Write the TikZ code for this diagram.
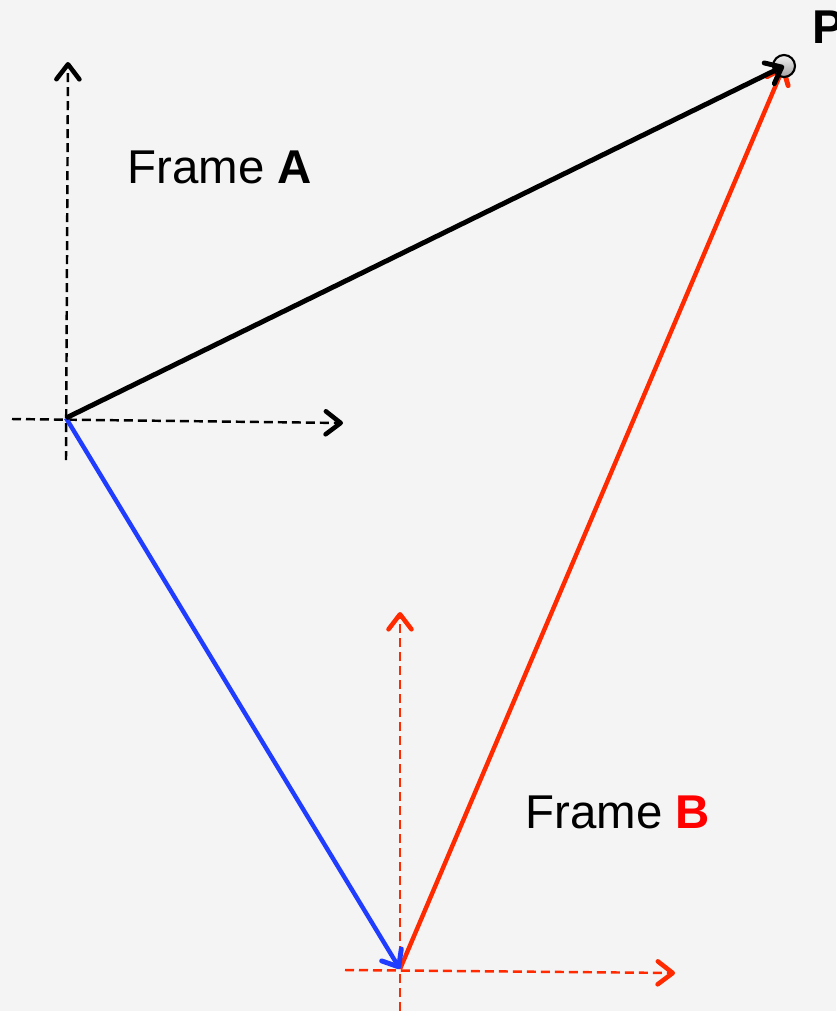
\documentclass[tikz,border=0pt]{standalone}
\usepackage{fontspec}
\setmainfont{Liberation Sans}
\usetikzlibrary{arrows.meta, positioning}

\definecolor{bgGray}{HTML}{F4F4F4}
\definecolor{vecBlue}{HTML}{1F3CFF}
\definecolor{vecRed}{HTML}{FF2A00}
\definecolor{labelRed}{HTML}{FF0000}

\begin{document}
\begin{tikzpicture}[
    x=0.02cm, y=-0.02cm,
    caption/.style={anchor=base west, inner sep=0pt, font=\fontsize{27}{32}\selectfont},
    axis/.style={line width=1.4pt, dash pattern=on 0.18cm off 0.1cm, -{Straight Barb[length=0.3cm, width=0.46cm, line width=2.6pt, round]}},
    vec/.style={line width=2.8pt, -{Straight Barb[length=0.28cm, width=0.46cm, line width=2.8pt, round]}},
    point/.style={circle, draw, line width=1.2pt, minimum size=0.44cm, inner sep=0pt, top color=gray!10, bottom color=gray!75}
]
    % Background
    \fill[bgGray] (0,0) rectangle (836,1011);
    \useasboundingbox (0,0) rectangle (836,1011);

    % Origins and axis ends
    \coordinate (A) at (66,418);
    \coordinate (B) at (400,969);
    \coordinate (Pc) at (784,66);
    \coordinate (AxS) at (12,419);
    \coordinate (AxE) at (343,423);
    \coordinate (AyS) at (66,460);
    \coordinate (AyE) at (68,62);
    \coordinate (BxS) at (345,970);
    \coordinate (BxE) at (675,973);
    \coordinate (ByS) at (400,1011);
    \coordinate (ByE) at (400,612);

    % Axes
    \draw[axis] (AxS) -- (AxE);
    \draw[axis] (AyS) -- (AyE);
    \draw[axis, vecRed] (BxS) -- (BxE);
    \draw[axis, vecRed] (ByS) -- (ByE);

    % Vectors
    \draw[vec, vecRed, line width=2.5pt] (B) -- (Pc);
    \node[point] (P) at (Pc) {};
    \draw[vec, vecBlue, line width=2.5pt] (A) -- (B);
    \draw[vec] (A) -- (P.center);

    % Labels
    \node[caption] (frameA) at (127,183) {Frame \textbf{A}};
    \node[caption] (frameB) at (525,828) {Frame \textbf{\color{labelRed}B}};
    \node[caption] (labelP) at (812,43) {\textbf{P}};
\end{tikzpicture}
\end{document}
